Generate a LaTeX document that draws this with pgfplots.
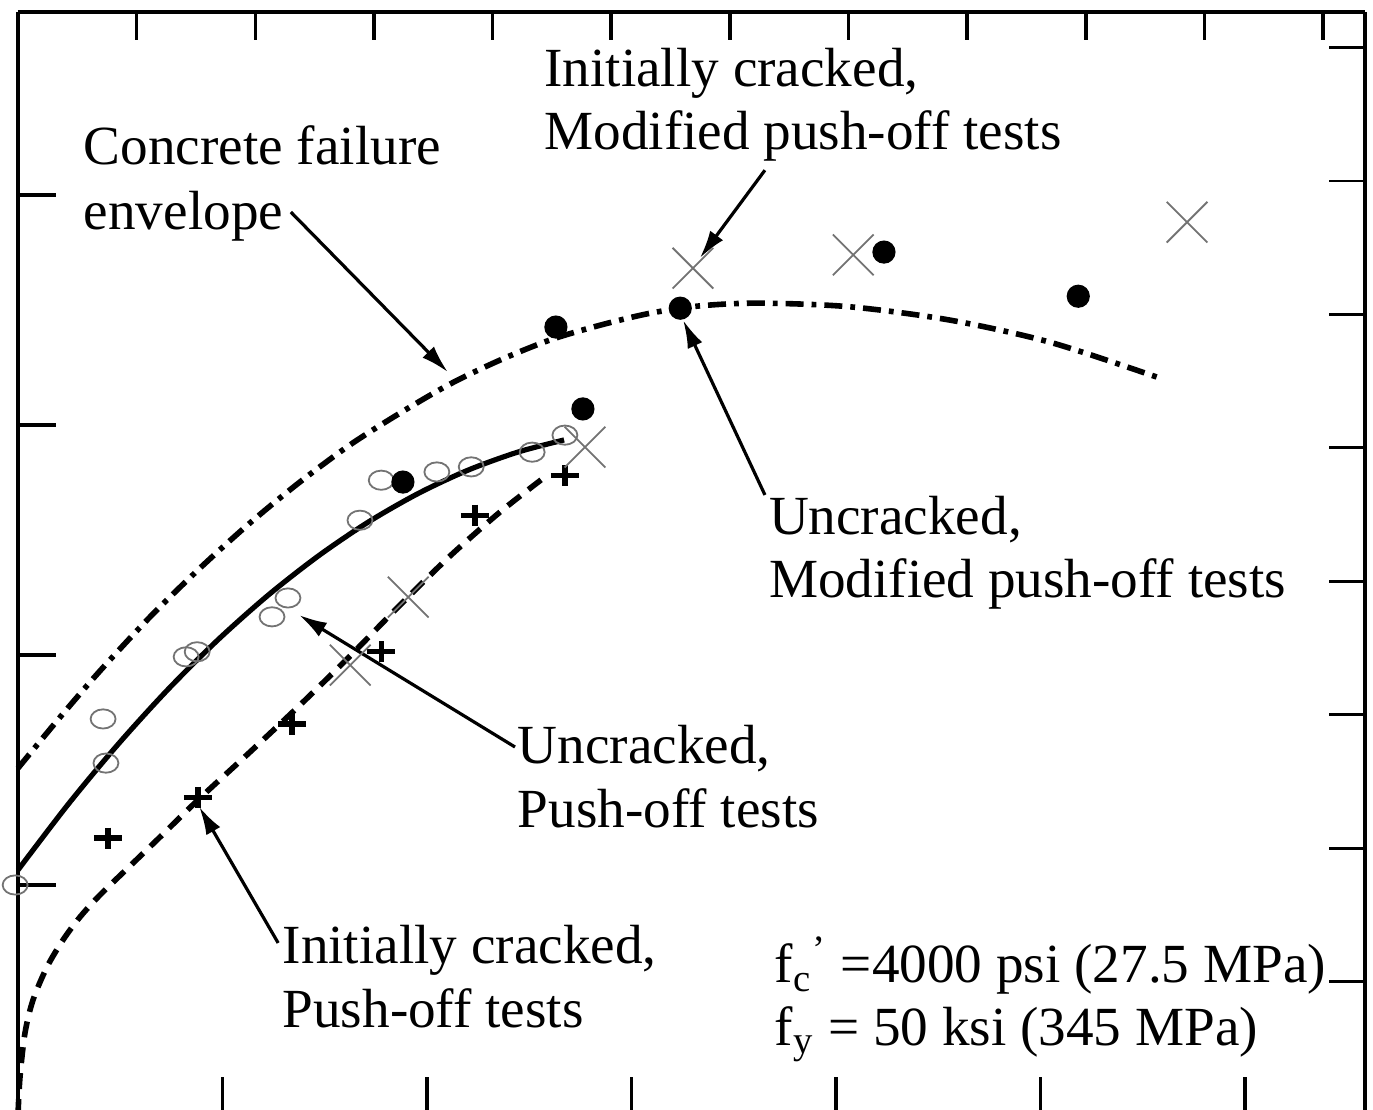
\documentclass[border=0pt]{standalone}
\usepackage{fontspec}
\setmainfont{Liberation Serif}
\usepackage{pgfplots}
\pgfplotsset{compat=1.18}
\usetikzlibrary{arrows.meta}
\definecolor{mgray}{gray}{0.45}
\newcommand\lbl{\fontsize{13.8}{16}\selectfont}
\begin{document}
\begin{tikzpicture}
\path[use as bounding box, clip] (-4.5pt,1.25pt) rectangle (338.75pt,278.75pt);
\pgfplotsset{base/.style={width=336.75pt, height=275.75pt, scale only axis,
  at={(0pt,0pt)}, anchor=south west, enlargelimits=false, clip=false,
  xticklabels={}, yticklabels={}}}
% main axis (ksi)
\begin{axis}[base, xmin=0, xmax=3.293, ymin=0, ymax=2.398,
  axis x line*=bottom, axis y line*=left, tick align=inside,
  xtick={0.5,1,1.5,2,2.5,3}, ytick={0.5,1,1.5,2},
  major tick length=9.5pt,
  x axis line style={line width=1pt}, y axis line style={line width=1.2pt},
  tick style={line width=0.9pt, black}]
% concrete failure envelope
\addplot[line width=1.4pt, dash pattern=on 4.5pt off 2pt on 1.2pt off 2pt, smooth] coordinates {
(0,0.754) (0.103,0.865) (0.200,0.965) (0.323,1.083) (0.445,1.189) (0.567,1.287)
(0.689,1.376) (0.812,1.457) (0.934,1.526) (1.056,1.589) (1.178,1.641) (1.301,1.685)
(1.423,1.717) (1.545,1.743) (1.667,1.759) (1.814,1.765) (2.034,1.757) (2.279,1.728)
(2.523,1.680) (2.785,1.604)};
% uncracked push-off fit
\addplot[line width=1.3pt, smooth] coordinates {
(0,0.5326) (0.1222,0.6749) (0.2445,0.8057) (0.3667,0.9252) (0.4890,1.0332)
(0.6112,1.1298) (0.7335,1.2149) (0.8557,1.2887) (0.9780,1.3510) (1.1002,1.4019)
(1.2225,1.4413) (1.3350,1.4675)};
% initially cracked push-off fit
\addplot[line width=1.4pt, dash pattern=on 4pt off 2.5pt, smooth] coordinates {
(0,0) (0.0049,0.0826) (0.0171,0.1783) (0.0367,0.2500) (0.0709,0.3217) (0.1100,0.3804)
(0.1516,0.4304) (0.2005,0.4783) (0.2738,0.5413) (0.3472,0.6043) (0.4450,0.6891)
(0.5672,0.7891) (0.6895,0.8913) (0.8117,0.9978) (0.9340,1.1087) (1.0562,1.2152)
(1.1785,1.3109) (1.2910,1.3891)};
% uncracked push-off tests
\addplot[only marks, mgray, mark=o, mark size=2.4pt, mark options={xscale=1.3, line width=0.45pt}] coordinates {
(-0.007,0.500) (0.208,0.861) (0.215,0.765) (0.411,0.996) (0.438,1.007) (0.621,1.083)
(0.660,1.124) (0.836,1.293) (0.888,1.380) (1.024,1.398) (1.108,1.409) (1.257,1.441)
(1.337,1.478)};
% uncracked modified push-off tests
\addplot[only marks, black, mark=*, mark size=2.7pt] coordinates {
(0.941,1.376) (1.381,1.535) (1.315,1.713) (1.619,1.754) (2.117,1.876) (2.592,1.780)};
% initially cracked push-off tests
\addplot[only marks, black, mark=+, mark size=3.5pt, mark options={yscale=0.75, line width=1.3pt}] coordinates {
(0.220,0.602) (0.440,0.691) (0.670,0.850) (0.888,1.007) (1.117,1.304) (1.337,1.391)};
% initially cracked modified push-off tests
\addplot[only marks, mgray, mark=x, mark size=7.2pt, mark options={line width=0.45pt}] coordinates {
(0.812,0.978) (0.954,1.126) (1.386,1.452) (1.650,1.841) (2.042,1.870) (2.858,1.941)};
% labels
\node[anchor=base west, inner sep=0, font=\lbl] at (axis cs:0.159,2.067) {Concrete failure};
\node[anchor=base west, inner sep=0, font=\lbl] at (axis cs:0.159,1.926) {envelope};
\node[anchor=base west, inner sep=0, font=\lbl] at (axis cs:1.285,2.237) {Initially cracked,};
\node[anchor=base west, inner sep=0, font=\lbl] at (axis cs:1.285,2.098) {Modified push-off tests};
\node[anchor=base west, inner sep=0, font=\lbl] at (axis cs:1.834,1.263) {Uncracked,};
\node[anchor=base west, inner sep=0, font=\lbl] at (axis cs:1.834,1.124) {Modified push-off tests};
\node[anchor=base west, inner sep=0, font=\lbl] at (axis cs:1.220,0.765) {Uncracked,};
\node[anchor=base west, inner sep=0, font=\lbl] at (axis cs:1.220,0.626) {Push-off tests};
\node[anchor=base west, inner sep=0, font=\lbl] at (axis cs:0.645,0.330) {Initially cracked,};
\node[anchor=base west, inner sep=0, font=\lbl] at (axis cs:0.645,0.191) {Push-off tests};
\node[anchor=base west, inner sep=0, font=\lbl] at (axis cs:1.848,0.287) {f\textsubscript{c}\textsuperscript{’} =4000 psi (27.5 MPa)};
\node[anchor=base west, inner sep=0, font=\lbl] at (axis cs:1.848,0.152) {f\textsubscript{y} = 50 ksi (345 MPa)};
% arrows
\draw[line width=0.8pt, -{Latex[length=7pt,width=4pt]}] (axis cs:0.667,1.963) -- (axis cs:1.051,1.615);
\draw[line width=0.8pt, -{Latex[length=7pt,width=4pt]}] (axis cs:1.826,2.054) -- (axis cs:1.667,1.863);
\draw[line width=0.8pt, -{Latex[length=7pt,width=4pt]}] (axis cs:1.826,1.348) -- (axis cs:1.626,1.728);
\draw[line width=0.8pt, -{Latex[length=7pt,width=4pt]}] (axis cs:1.215,0.800) -- (axis cs:0.687,1.087);
\draw[line width=0.8pt, -{Latex[length=7pt,width=4pt]}] (axis cs:0.636,0.374) -- (axis cs:0.443,0.670);
\end{axis}
% top axis (MPa)
\begin{axis}[base, xmin=0, xmax=22.705, ymin=0, ymax=16.534,
  axis x line*=top, axis y line=none, tick align=inside,
  xtick={2,4,...,22}, ytick=\empty, major tick length=7pt,
  x axis line style={line width=1pt}, tick style={line width=0.9pt, black}]
\end{axis}
% right axis (MPa)
\begin{axis}[base, xmin=0, xmax=22.705, ymin=0, ymax=16.534,
  axis x line=none, axis y line*=right, tick align=inside,
  xtick=\empty, ytick={2,4,...,16}, major tick length=9pt,
  y axis line style={line width=0.8pt}, tick style={line width=0.7pt, black}]
\end{axis}
\end{tikzpicture}
\end{document}
